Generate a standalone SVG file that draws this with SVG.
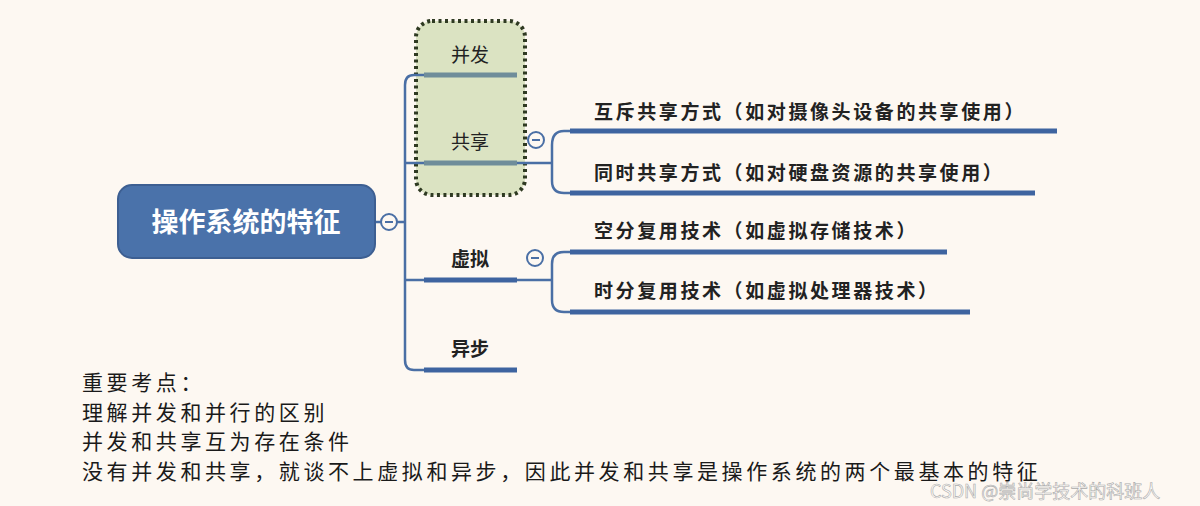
<svg xmlns="http://www.w3.org/2000/svg" width="1200" height="506" viewBox="0 0 1200 506">
<style>
.c{fill:none;stroke:#4a6fa5;stroke-width:2.5}
.u{stroke:#3e64a0;stroke-width:5}
.ug{stroke:#6f8d9a;stroke-width:5}
.t{font-family:"Noto Sans CJK SC",sans-serif;font-size:19px;fill:#222}
.b{font-family:"Noto Sans CJK SC",sans-serif;font-size:19px;font-weight:bold;fill:#222}
.cb{font-family:"Noto Sans CJK SC",sans-serif;font-size:19px;font-weight:bold;fill:#222;letter-spacing:2.6px}
.n{font-family:"Noto Sans CJK SC",sans-serif;font-size:21px;fill:#1a1a1a;letter-spacing:3.6px}
.col{fill:#fdf8f2;stroke:#4a6fa5;stroke-width:2}
</style>
<rect width="1200" height="506" fill="#fdf8f2"/>
<g id="group-box"><rect x="416" y="21" width="109" height="174" rx="16" fill="#dbe3c2" stroke="#2f3a22" stroke-width="4" stroke-dasharray="3,3.5"/></g>
<g id="connectors">
<path class="c" d="M424,75 H414 Q405,75 405,85 V360 Q405,370 414,370 H424 M405,163 H424 M405,280 H424 M375,222 H405"/>
<path class="c" d="M517,163 H552 M570,131 H564 Q552,131 552,145 V181 Q552,193 564,193 H570"/>
<path class="c" d="M517,280 H552 M570,252 H564 Q552,252 552,264 V300 Q552,312 564,312 H570"/>
</g>
<g id="root"><rect x="118" y="185" width="257" height="73" rx="14" fill="#4a72aa" stroke="#3d5f92" stroke-width="2"/>
<text x="246" y="232" text-anchor="middle" font-family="Noto Sans CJK SC,sans-serif" font-size="27" font-weight="bold" fill="#fff">操作系统的特征</text>
<circle class="col" cx="389" cy="222" r="8"/><line x1="385" y1="222" x2="393" y2="222" stroke="#4a6fa5" stroke-width="2"/></g>
<g id="bingfa"><line class="ug" x1="424" y1="75" x2="517" y2="75"/><text class="t" x="470" y="62" text-anchor="middle">并发</text></g>
<g id="gongxiang"><line class="ug" x1="424" y1="163" x2="517" y2="163"/><text class="t" x="470" y="149" text-anchor="middle">共享</text>
<circle class="col" cx="536" cy="140" r="8"/><line x1="532" y1="140" x2="540" y2="140" stroke="#4a6fa5" stroke-width="2"/></g>
<g id="xuni"><line class="u" x1="424" y1="280" x2="517" y2="280"/><text class="b" x="470" y="266" text-anchor="middle">虚拟</text>
<circle class="col" cx="535" cy="258" r="8"/><line x1="531" y1="258" x2="539" y2="258" stroke="#4a6fa5" stroke-width="2"/></g>
<g id="yibu"><line class="u" x1="424" y1="370" x2="517" y2="370"/><text class="b" x="470" y="356" text-anchor="middle">异步</text></g>
<g id="c1"><line class="u" x1="570" y1="131" x2="1057" y2="131"/><text class="cb" x="594" y="119">互斥共享方式（如对摄像头设备的共享使用）</text></g>
<g id="c2"><line class="u" x1="570" y1="193" x2="1035" y2="193"/><text class="cb" x="594" y="180">同时共享方式（如对硬盘资源的共享使用）</text></g>
<g id="c3"><line class="u" x1="570" y1="252" x2="947" y2="252"/><text class="cb" x="594" y="238">空分复用技术（如虚拟存储技术）</text></g>
<g id="c4"><line class="u" x1="570" y1="312" x2="970" y2="312"/><text class="cb" x="594" y="298">时分复用技术（如虚拟处理器技术）</text></g>
<g id="notes">
<text class="n" x="82" y="390">重要考点：</text>
<text class="n" x="82" y="420">理解并发和并行的区别</text>
<text class="n" x="82" y="449">并发和共享互为存在条件</text>
<text class="n" x="82" y="479">没有并发和共享，就谈不上虚拟和异步，因此并发和共享是操作系统的两个最基本的特征</text>
<text x="930" y="498" font-family="Noto Sans CJK SC,sans-serif" font-size="18" fill="#fff" fill-opacity="0.6" stroke="#aaa" stroke-width="0.6">CSDN @崇尚学技术的科班人</text>
</g>
</svg>
